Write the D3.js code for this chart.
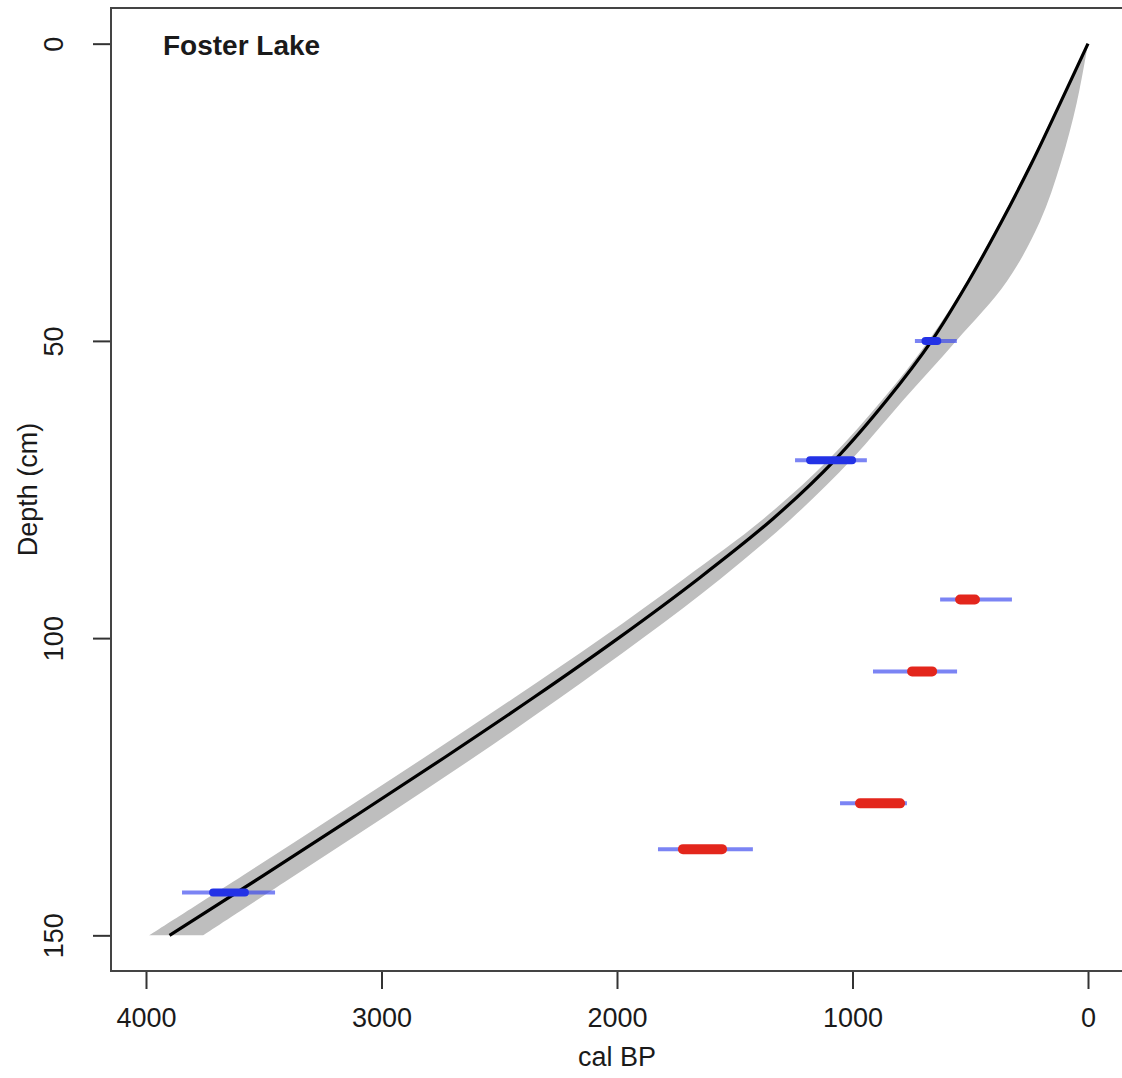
<!DOCTYPE html>
<html>
<head>
<meta charset="utf-8">
<script src="https://cdn.jsdelivr.net/npm/d3@7"></script>
<style>
  body { margin: 0; background: #fff; }
  text { font-family: "Liberation Sans", Arial, sans-serif; fill: #1a1a1a; }
</style>
</head>
<body>
<div id="chart"></div>
<script>
//** Age-depth data **//

// age model: depth (cm), mean age and min/max envelope (cal BP)
var modelDepth = [0, 10, 20, 30, 40, 50, 60, 70, 80, 90, 100, 110, 120, 130, 140, 150];
var modelMean  = [0, 118, 238, 368, 508, 664, 855, 1074, 1340, 1654, 1994, 2354, 2729, 3114, 3504, 3900];
var modelMin   = [0, 48, 115, 205, 345, 560, 785, 1005, 1262, 1560, 1890, 2240, 2605, 2985, 3372, 3758];
var modelMax   = [0, 122, 244, 374, 514, 678, 875, 1102, 1380, 1715, 2065, 2435, 2815, 3202, 3592, 3987];

// dated samples
var dateDepth = [50, 70.1, 93.5, 105.6, 127.8, 135.5, 142.8];
var rangeMin  = [557, 939, 323, 556, 769, 1423, 3452];
var rangeMax  = [735, 1244, 628, 913, 1053, 1826, 3847];
var coreMin   = [640, 1002, 480, 662, 798, 1554, 3580];
var coreMax   = [690, 1180, 543, 747, 968, 1720, 3715];
var outlier   = [false, false, true, true, true, true, false];

// axes
var xTicks = [4000, 3000, 2000, 1000, 0];
var yTicks = [0, 50, 100, 150];
var xDomain = [4148.6, -148.6];
var yDomain = [-6, 156];

var siteName = "Foster Lake";

//* Chart setup *//
var W = 1122, H = 1078;
var box = {left: 111, top: 8, right: 1123, bottom: 971};

var svg = d3.select("#chart").append("svg")
    .attr("width", W)
    .attr("height", H);

var x = d3.scaleLinear().domain(xDomain).range([box.left, box.right]);
var y = d3.scaleLinear().domain(yDomain).range([box.top, box.bottom]);

var model = modelDepth.map(function(d, i) {
  return {depth: d, mean: modelMean[i], min: modelMin[i], max: modelMax[i]};
});

// grey envelope
var area = d3.area()
    .y(function(d) { return y(d.depth); })
    .x0(function(d) { return x(d.max); })
    .x1(function(d) { return x(d.min); })
    .curve(d3.curveCatmullRom);

svg.append("path")
    .datum(model)
    .attr("d", area)
    .attr("fill", "#bebebe");

// mean age line
var line = d3.line()
    .y(function(d) { return y(d.depth); })
    .x(function(d) { return x(d.mean); })
    .curve(d3.curveCatmullRom);

svg.append("path")
    .datum(model)
    .attr("d", line)
    .attr("fill", "none")
    .attr("stroke", "#000")
    .attr("stroke-width", 3.2);

// dates: full range in light blue, dense part in blue (fits) or red (outliers)
var dates = dateDepth.map(function(d, i) {
  return {depth: d, lo: rangeMin[i], hi: rangeMax[i], c0: coreMin[i], c1: coreMax[i], out: outlier[i]};
});

var dg = svg.append("g").selectAll("g")
    .data(dates)
    .enter().append("g");

dg.append("line")
    .attr("x1", function(d) { return x(d.hi); })
    .attr("x2", function(d) { return x(d.lo); })
    .attr("y1", function(d) { return y(d.depth); })
    .attr("y2", function(d) { return y(d.depth); })
    .attr("stroke", "#3442ee")
    .attr("stroke-opacity", 0.65)
    .attr("stroke-width", 4);

dg.append("line")
    .attr("x1", function(d) { return x(d.c1); })
    .attr("x2", function(d) { return x(d.c0); })
    .attr("y1", function(d) { return y(d.depth); })
    .attr("y2", function(d) { return y(d.depth); })
    .attr("stroke", function(d) { return d.out ? "#e3261c" : "#2332e6"; })
    .attr("stroke-width", function(d) { return d.out ? 10 : 8; })
    .attr("stroke-linecap", "round");

//* Axes (R style) *//
var xAxis = d3.axisBottom(x).tickValues(xTicks).tickSize(18).tickPadding(19)
    .tickFormat(d3.format("d"));
var yAxis = d3.axisLeft(y).tickValues(yTicks).tickSize(18).tickPadding(8)
    .tickFormat(d3.format("d"));

var gx = svg.append("g")
    .attr("transform", "translate(0," + box.bottom + ")")
    .call(xAxis);
gx.select(".domain").remove();
gx.selectAll("line").attr("stroke", "#333").attr("stroke-width", 2);
gx.selectAll("text").attr("font-size", 27).attr("fill", "#1a1a1a");

var gy = svg.append("g")
    .attr("transform", "translate(" + box.left + ",0)")
    .call(yAxis);
gy.select(".domain").remove();
gy.selectAll("line").attr("stroke", "#333").attr("stroke-width", 2);
gy.selectAll("text")
    .attr("font-size", 27)
    .attr("fill", "#1a1a1a")
    .attr("x", null).attr("dy", null)
    .attr("text-anchor", "middle")
    .attr("transform", "translate(-48,0) rotate(-90)");

// plot box
svg.append("rect")
    .attr("x", box.left)
    .attr("y", box.top)
    .attr("width", box.right - box.left)
    .attr("height", box.bottom - box.top)
    .attr("fill", "none")
    .attr("stroke", "#444")
    .attr("stroke-width", 2);

// axis titles
svg.append("text")
    .attr("x", x(2000))
    .attr("y", 1066)
    .attr("text-anchor", "middle")
    .attr("font-size", 27)
    .text("cal BP");

svg.append("text")
    .attr("transform", "translate(37," + y(75) + ") rotate(-90)")
    .attr("text-anchor", "middle")
    .attr("font-size", 27)
    .text("Depth (cm)");

// site name
svg.append("text")
    .attr("x", 163)
    .attr("y", 55)
    .attr("font-size", 28)
    .attr("font-weight", "bold")
    .text(siteName);
</script>
</body>
</html>
